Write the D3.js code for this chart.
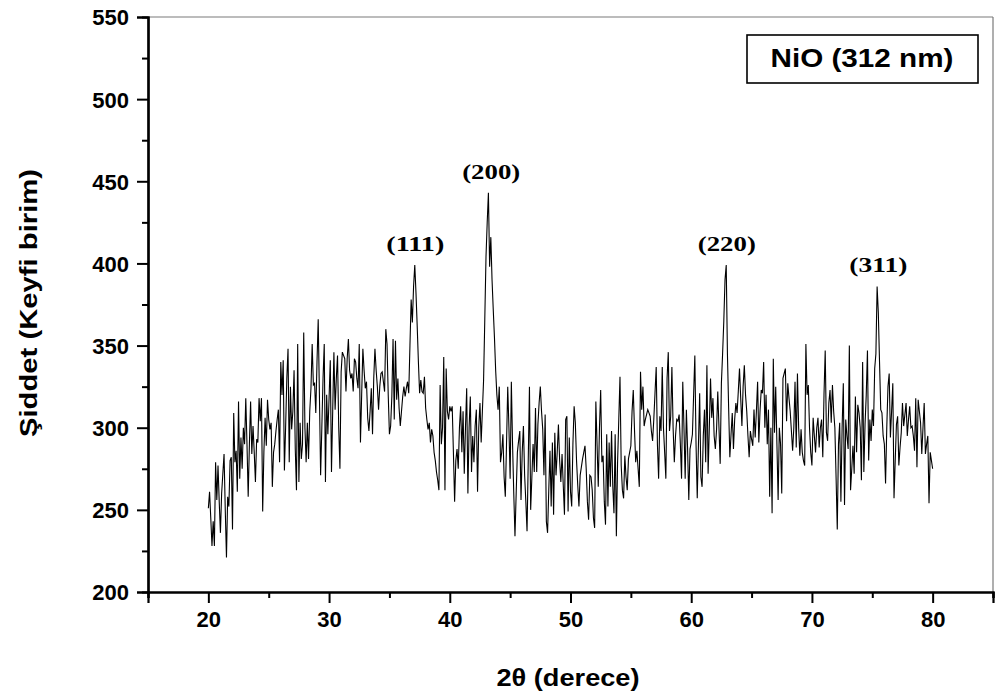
<!DOCTYPE html>
<html><head><meta charset="utf-8">
<script src="https://cdn.jsdelivr.net/npm/d3@7"></script>
<style>
html,body{margin:0;padding:0;background:#fff;}
svg{display:block;}
.ax text{font-family:"Liberation Sans",Arial,sans-serif;font-weight:bold;font-size:22px;fill:#000;}
</style></head>
<body>
<svg id="c" width="997" height="695"></svg>
<script>
// 2θ grid start / step (degrees)
const thetaStart = 20, thetaStep = 0.1;
// intensity values, one row per degree (20.0 ... 80.0)
const intensity = [
251,261,245,228,243,228,279,256,277,255,
236,260,272,284,250,221,258,252,280,282,
238,309,279,286,261,316,269,294,275,300,
290,318,290,258,290,316,284,301,285,267,
293,291,318,304,318,249,285,306,289,317,
305,299,303,264,285,290,298,305,311,279,
340,320,341,274,300,330,348,279,325,299,
310,335,287,262,351,267,303,281,290,358,
300,279,303,281,310,324,351,326,327,309,
340,366,320,271,300,330,351,267,320,296,
318,341,273,310,346,311,330,344,300,275,
334,346,344,342,322,342,354,335,330,333,
322,342,340,330,324,351,291,320,348,335,
324,328,306,298,310,324,296,330,348,335,
325,311,325,333,334,328,322,360,351,320,
296,301,319,354,305,353,317,330,312,301,
310,319,325,319,324,328,321,350,378,364,
386,399,382,362,340,321,329,322,321,331,
312,305,299,303,291,299,295,285,280,273,
268,262,326,290,300,343,262,336,310,305,
313,310,313,285,255,280,287,275,300,313,
285,310,272,300,324,260,300,319,273,295,
279,301,311,261,300,315,291,310,329,366,
404,425,443,398,416,390,372,355,335,320,
311,325,279,285,296,270,258,290,325,300,
269,328,290,260,234,260,285,292,298,256,
285,301,271,255,237,280,325,250,270,290,
273,312,273,302,315,325,310,299,271,308,
243,236,262,286,252,291,247,297,271,285,
302,280,267,284,265,247,305,307,249,294,
261,252,290,313,303,280,265,252,271,276,
281,285,289,275,255,244,271,270,262,245,
239,316,290,264,300,323,279,283,255,241,
296,252,291,264,298,265,248,296,234,279,
305,331,277,262,257,283,270,262,281,285,
289,310,323,299,279,286,275,264,334,311,
325,301,305,308,311,309,307,298,292,305,
321,337,290,269,307,298,337,300,285,269,
330,346,298,307,337,300,279,295,305,304,
308,290,269,328,300,269,311,287,256,287,
291,296,320,344,290,257,290,321,270,264,
295,311,279,338,272,300,330,306,318,295,
287,299,322,300,278,327,345,365,390,399,
345,312,282,296,309,287,305,315,309,322,
336,318,301,325,338,320,310,295,282,298,
293,289,311,294,310,328,291,310,323,321,
340,300,320,290,311,258,300,248,342,297,
325,290,256,300,290,260,330,333,336,304,
327,318,310,298,286,300,328,288,333,300,
283,299,285,280,277,351,320,326,300,285,
277,306,295,285,300,306,288,300,305,282,
320,347,297,292,315,323,303,326,310,300,
270,238,290,303,255,300,327,253,305,295,
287,350,262,275,289,272,319,285,314,309,
300,268,340,273,302,320,347,280,305,292,
311,301,336,345,386,370,340,311,309,295,
290,266,300,325,333,294,310,327,257,280,
302,307,277,288,297,315,301,308,315,295,
305,313,300,301,295,286,318,276,317,310,
303,284,300,315,284,290,295,254,285,280,
275
];
const xDomain = [15, 85];
const yDomain = [200, 550];
const xMajorTicks = [20, 30, 40, 50, 60, 70, 80];
const xMinorTicks = [15, 25, 35, 45, 55, 65, 75, 85];
const yMajorTicks = [200, 250, 300, 350, 400, 450, 500, 550];
const yMinorTicks = [225, 275, 325, 375, 425, 475, 525];
const peakNames = ["(111)", "(200)", "(220)", "(311)"];
const peakTheta = [37.15, 43.43, 62.95, 75.5];
const peakTop = [399, 443, 399, 386];
const legendText = "NiO (312 nm)";
const xTitle = "2θ (derece)";
const yTitle = "Şiddet (Keyfi birim)";

const svg = d3.select("#c");
const L = 148, R = 993, T = 17, B = 592;
const x = d3.scaleLinear().domain(xDomain).range([L, R]);
const y = d3.scaleLinear().domain(yDomain).range([B, T]);

// frame (top / right)
svg.append("line").attr("x1", L).attr("x2", R).attr("y1", T).attr("y2", T)
  .attr("stroke", "#7a7a7a").attr("stroke-width", 1.2);
svg.append("line").attr("x1", R).attr("x2", R).attr("y1", T).attr("y2", B)
  .attr("stroke", "#7a7a7a").attr("stroke-width", 1.2);

// data line
const pts = intensity.map((v, i) => [thetaStart + i * thetaStep, v]);
svg.append("path").datum(pts)
  .attr("fill", "none").attr("stroke", "#000").attr("stroke-width", 1.1)
  .attr("stroke-linejoin", "miter")
  .attr("d", d3.line().x(d => x(d[0])).y(d => y(d[1])));

// axes
svg.append("g").attr("class", "ax").attr("transform", `translate(0,${B})`)
  .call(d3.axisBottom(x).tickValues(xMajorTicks).tickSize(11).tickPadding(8).tickFormat(d3.format("d")));
svg.append("g").attr("class", "ax").attr("transform", `translate(0,${B})`)
  .call(d3.axisBottom(x).tickValues(xMinorTicks).tickSize(6).tickFormat(""));
const gy = svg.append("g").attr("class", "ax").attr("transform", `translate(${L},0)`)
  .call(d3.axisLeft(y).tickValues(yMajorTicks).tickSize(11).tickPadding(8).tickFormat(d3.format("d")));
svg.append("g").attr("class", "ax").attr("transform", `translate(${L},0)`)
  .call(d3.axisLeft(y).tickValues(yMinorTicks).tickSize(6).tickFormat(""));
svg.selectAll(".ax path.domain").attr("stroke", "#000").attr("stroke-width", 2.2);
svg.selectAll(".ax line").attr("stroke", "#000").attr("stroke-width", 2);
gy.selectAll("text").attr("dy", "0.36em");

// peak labels
svg.append("g").selectAll("text").data(peakNames).join("text")
  .attr("x", (d, i) => x(peakTheta[i]))
  .attr("y", (d, i) => y(peakTop[i]) - 14)
  .attr("text-anchor", "middle")
  .attr("font-family", "'Liberation Serif','Times New Roman',serif")
  .attr("font-weight", "bold").attr("font-size", 22)
  .attr("textLength", 58).attr("lengthAdjust", "spacingAndGlyphs")
  .text(d => d);

// legend box
svg.append("rect").attr("x", 747).attr("y", 35).attr("width", 231).attr("height", 48)
  .attr("fill", "#fff").attr("stroke", "#000").attr("stroke-width", 1.6);
svg.append("text").attr("x", 862).attr("y", 67).attr("text-anchor", "middle")
  .attr("font-family", "'Liberation Sans',Arial,sans-serif").attr("font-weight", "bold")
  .attr("font-size", 25).attr("textLength", 183).attr("lengthAdjust", "spacingAndGlyphs")
  .text(legendText);

// axis titles
svg.append("text").attr("x", 568).attr("y", 686).attr("text-anchor", "middle")
  .attr("font-family", "'Liberation Sans',Arial,sans-serif").attr("font-weight", "bold")
  .attr("font-size", 23).attr("textLength", 143).attr("lengthAdjust", "spacingAndGlyphs")
  .text(xTitle);
svg.append("text").attr("transform", "translate(37,303) rotate(-90)").attr("text-anchor", "middle")
  .attr("font-family", "'Liberation Sans',Arial,sans-serif").attr("font-weight", "bold")
  .attr("font-size", 24).attr("textLength", 268).attr("lengthAdjust", "spacingAndGlyphs")
  .text(yTitle);
</script>
</body></html>
